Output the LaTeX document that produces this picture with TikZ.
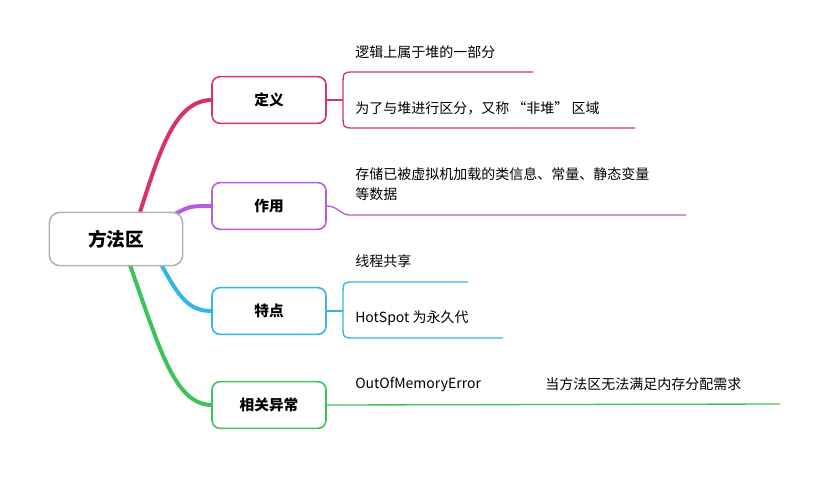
\documentclass[tikz,border=0pt]{standalone}
\usepackage{fontspec}
\setmainfont{Noto Sans CJK SC}
\usetikzlibrary{positioning}
\definecolor{cdef}{HTML}{D6336C}
\definecolor{cuse}{HTML}{B65CE0}
\definecolor{cfeat}{HTML}{33B5E8}
\definecolor{cexc}{HTML}{3CC35B}
\tikzset{
  topic/.style={draw=#1,line width=1.2pt,rounded corners=6pt,minimum width=85.5pt,minimum height=35pt,font=\bfseries\fontsize{11}{13}\selectfont},
  leaf/.style={anchor=west,inner sep=0pt,font=\fontsize{10.5}{15}\selectfont,align=left},
  branch/.style={#1,line width=3pt},
  twig/.style={#1,line width=1pt}
}
\begin{document}
\begin{tikzpicture}[x=0.75pt,y=-0.75pt]
\useasboundingbox (0,0) rectangle (829,476);
% branches
\draw[branch=cdef] (140,212) .. controls (160,150) and (175,100) .. (212,100);
\draw[branch=cuse] (175,214) .. controls (190,206) .. (212,206);
\draw[branch=cfeat] (160,262) .. controls (180,300) and (190,311) .. (212,311);
\draw[branch=cexc] (130,265) .. controls (160,350) and (175,405) .. (212,405);
\node[draw=gray!60,line width=1.2pt,rounded corners=8pt,fill=white,minimum width=100pt,minimum height=40pt,font=\bfseries\fontsize{14}{16}\selectfont] (root) at (116,239) {方法区};
\node[topic=cdef] (def) at (269,100) {定义};
\node[topic=cuse] (use) at (269,206) {作用};
\node[topic=cfeat] (feat) at (269,311) {特点};
\node[topic=cexc] (exc) at (269,405) {相关异常};
% leaves
\coordinate (d1) at (533,72); \coordinate (d2) at (635,128);
\draw[twig=cdef] (d1) -- (354,72) .. controls (343,72) .. (343,86) -- (343,114) .. controls (343,128) .. (354,128) -- (d2);
\draw[twig=cdef] (def.east) -- (343,100);
\node[leaf] at (355,52) {逻辑上属于堆的一部分};
\node[leaf] at (355,108) {为了与堆进行区分，又称 “非堆” 区域};
\coordinate (u1) at (686,215);
\draw[twig=cuse] (use.east) .. controls (338,206) and (340,215) .. (350,215) -- (u1);
\node[leaf] at (355,184) {存储已被虚拟机加载的类信息、常量、静态变量\\等数据};
\coordinate (f1) at (468,282); \coordinate (f2) at (503,338);
\draw[twig=cfeat] (f1) -- (354,282) .. controls (343,282) .. (343,296) -- (343,324) .. controls (343,338) .. (354,338) -- (f2);
\draw[twig=cfeat] (feat.east) -- (343,311);
\node[leaf] at (355,261) {线程共享};
\node[leaf] at (355,318) {HotSpot 为永久代};
\coordinate (e1) at (780,404);
\draw[twig=cexc] (exc.east) -- (e1);
\node[leaf] at (355,384) {OutOfMemoryError};
\node[leaf] at (545,384) {当方法区无法满足内存分配需求};
\end{tikzpicture}
\end{document}
